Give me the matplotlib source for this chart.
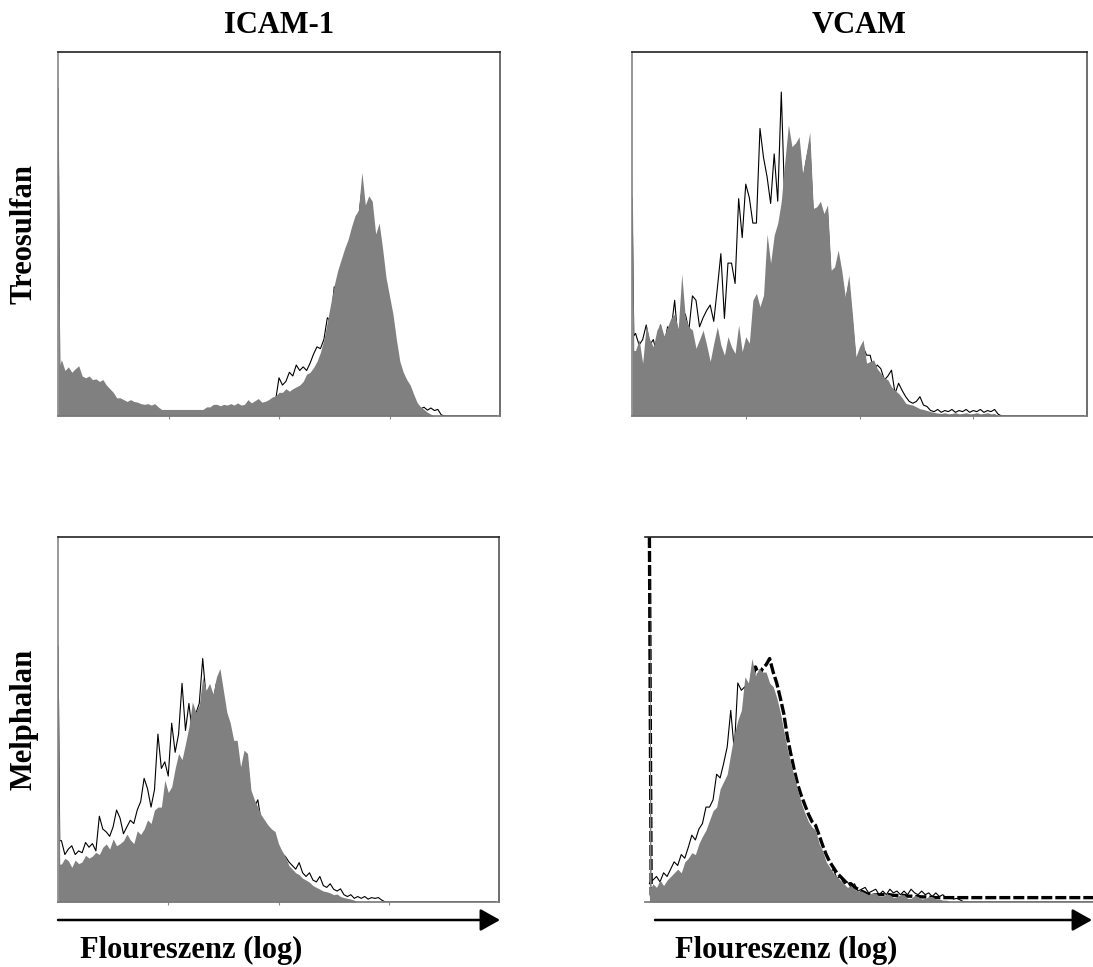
import matplotlib
matplotlib.use("Agg")
import matplotlib.pyplot as plt

# ---------------------------------------------------------------------------
# Data: flow cytometry histograms, counts in % of panel height per channel
# ---------------------------------------------------------------------------

CHANNELS = [0, 1] + list(range(2, 256, 2))

COL_TITLES = ["ICAM-1", "VCAM"]
ROW_LABELS = ["Treosulfan", "Melphalan"]
X_LABEL = "Floureszenz (log)"

treo_icam_gray = [100, 14,
                  15.5, 12.5, 13.5, 12, 13, 13.8, 11, 10.5, 11, 10, 10.2, 9.5, 10, 8.5, 7.5, 6.5,
                  5, 5, 4.5, 4, 4.5, 4, 3.8, 3.4, 3.2, 3.4, 3, 3.4, 2.5, 1.8, 1.8, 1.8,
                  1.8, 1.8, 1.8, 1.8, 1.8, 1.8, 1.8, 1.8, 1.8, 1.8, 2.5, 2.5, 3.2, 3.2, 2.8, 3.2,
                  3, 3.4, 3, 3.6, 3, 3.2, 4.5, 3.6, 4.2, 4.8, 3.8, 4, 4.5, 5.2, 5.5, 6.5,
                  6.5, 7.5, 6.8, 7.5, 8, 8.5, 9.5, 11.5, 12, 13.3, 15, 17.5, 21, 26, 31, 36,
                  40, 43, 46, 48.5, 52, 55, 56.5, 67, 58, 60.5, 59, 50, 53, 46, 38, 33,
                  28, 21, 15, 12, 10, 8.5, 6, 3.7, 2.5, 1.8, 1, 0.5, 0, 0, 0, 0,
                  0, 0, 0, 0, 0, 0, 0, 0, 0, 0, 0, 0, 0, 0, 0]
treo_icam_line = [90, 12,
                  13, 10, 11, 9.5, 10.5, 11, 8.5, 8, 8.5, 7.5, 8, 7, 7.5, 6.5, 5.5, 5,
                  3.8, 3.5, 3.2, 3, 3.2, 3, 2.8, 2.5, 2.4, 2.5, 2.2, 2.5, 1.8, 1.2, 1.2, 1.2,
                  1.2, 1.2, 1.2, 1.2, 1.2, 1.2, 1.2, 1.2, 1.2, 1.2, 1.8, 1.8, 2.4, 2.4, 2, 2.4,
                  2.2, 2.5, 2.2, 2.7, 2.2, 2.4, 3.4, 2.7, 3.2, 3.6, 2.8, 3, 3.4, 4, 4.2, 10.5,
                  8.5, 9.5, 12, 11, 14, 12.5, 13.5, 12.5, 14.5, 17, 19, 18.5, 21, 27, 26, 35.5,
                  34, 41, 44, 46, 49, 52, 54, 62, 55, 57, 56, 47, 50, 43, 36, 30,
                  25, 19, 13, 10, 8.5, 7, 5, 3, 2, 2.4, 1.6, 2.2, 1.5, 1.8, 0.3, 0,
                  0, 0, 0, 0, 0, 0, 0, 0, 0, 0, 0, 0, 0, 0, 0]

treo_vcam_gray = [73, 18,
                  18, 21, 14.5, 25, 21, 19, 23.6, 25.4, 22, 24.5, 27, 28, 24, 39, 27, 24.5,
                  23.6, 18.6, 21, 23.6, 19.5, 15, 20, 24.5, 19.5, 16.7, 21.8, 19, 17.2, 25, 17.7, 21.8,
                  20, 31.8, 33.7, 30, 33.2, 50, 42, 49.7, 53, 59, 70, 80, 74, 75, 76.7, 66.6,
                  72, 78, 57, 57.5, 59, 55.6, 58, 40, 41, 45.6, 40, 32.8, 38.7, 28, 16.3, 19,
                  20.9, 14.5, 15, 15.4, 13, 11.7, 10.5, 9.9, 8, 7, 6.2, 5, 3.5, 3.2, 3, 2.5,
                  2, 1.8, 1.5, 1.2, 1, 0.8, 0.7, 0.9, 0.6, 0.7, 0.9, 0.6, 0.7, 0.9, 0.6, 0.7,
                  0.9, 0.6, 0.7, 0.9, 0.6, 0.7, 0, 0, 0, 0, 0, 0, 0, 0, 0, 0,
                  0, 0, 0, 0, 0, 0, 0, 0, 0, 0, 0, 0, 0, 0, 0]
treo_vcam_line = [60, 22,
                  22.7, 19.5, 21, 25, 19.5, 21, 17, 25, 18.7, 24.5, 23.6, 31.8, 20, 27, 28, 23.6,
                  33, 31.8, 24.5, 27, 29, 30.5, 26, 35, 44.6, 26.8, 42, 42, 36.4, 59.7, 49, 63.7,
                  60, 53, 53, 79, 71, 65.7, 58.4, 72, 59, 89, 57.5, 75, 72, 73, 74, 64,
                  70, 75, 55, 55, 57, 53, 56, 38, 39, 43, 38, 31, 36, 26, 15, 17,
                  19, 16.7, 16.7, 12.6, 14, 13, 9.9, 11, 12.6, 6.2, 9, 7, 5.3, 4, 3.5, 4,
                  5.3, 3, 2.6, 1.5, 1.2, 1.8, 1, 1.5, 1.2, 1.8, 1, 1.5, 1.2, 1.8, 1, 1.5,
                  1.2, 1.8, 1, 1.5, 1.2, 1.8, 0.5, 0, 0, 0, 0, 0, 0, 0, 0, 0,
                  0, 0, 0, 0, 0, 0, 0, 0, 0, 0, 0, 0, 0, 0, 0]

mel_icam_gray = [75, 10.4,
                 10.4, 12, 11.3, 9.5, 11.5, 10.5, 11, 12.8, 12, 12.6, 13.6, 13, 15, 15.9, 14.5, 17.3,
                 15.4, 16, 16.8, 18.6, 17, 16, 19.5, 18.5, 20, 22.5, 21.5, 25.2, 26, 26, 33.4, 30,
                 31.6, 36.6, 40.7, 39, 43.4, 48, 54.8, 52, 54, 61.7, 58, 59.9, 57, 61.7, 64, 58,
                 52, 49, 44.3, 44.3, 37, 41.6, 40.7, 30.7, 28, 26, 23.8, 22.4, 21, 20, 19.3, 16,
                 14, 12.5, 10, 9, 8, 7.5, 6.5, 6, 5.4, 4.5, 4, 3.5, 3, 2.8, 2.5, 2,
                 2.2, 1.5, 1.2, 1, 0.8, 0.5, 0, 0, 0, 0, 0, 0, 0, 0, 0, 0,
                 0, 0, 0, 0, 0, 0, 0, 0, 0, 0, 0, 0, 0, 0, 0, 0,
                 0, 0, 0, 0, 0, 0, 0, 0, 0, 0, 0, 0, 0, 0, 0]
mel_icam_line = [70, 16.8,
                 16.8, 13, 14.5, 15.4, 13, 14, 13.5, 16.3, 15, 16, 14, 23.5, 20, 19.2, 18, 20.6,
                 25.2, 23, 18.7, 20.6, 22.4, 21.5, 25.2, 27.5, 33.9, 31, 26, 30.7, 46, 36.6, 38.4, 34.5,
                 49, 41, 46, 59.9, 47, 54.4, 46, 51.6, 54.4, 66.7, 56, 58, 55, 60, 62, 56,
                 50, 47, 42, 42, 35, 39, 38.5, 28.5, 26, 28, 22, 21, 18.8, 19, 17.5, 14,
                 13, 12.5, 11, 10, 9, 10.8, 8, 7, 8, 6, 5.5, 7, 4.5, 4, 5, 3.5,
                 3, 3.6, 2, 1.5, 2, 1, 1.5, 1, 1.5, 0.8, 1.2, 1, 1.2, 0.5, 0, 0,
                 0, 0, 0, 0, 0, 0, 0, 0, 0, 0, 0, 0, 0, 0, 0, 0,
                 0, 0, 0, 0, 0, 0, 0, 0, 0, 0, 0, 0, 0, 0, 0]

mel_vcam_gray = [96.7, 4,
                 5, 4, 6, 4.5, 6, 7, 8, 9, 8, 11, 12, 13.5, 13, 16, 18, 19.7,
                 22.4, 25, 26, 31, 33, 35, 40.7, 46, 49.8, 52.5, 61.7, 60, 66.7, 62, 64, 63,
                 63, 60, 59, 56, 52, 47, 42, 38, 34.3, 30.5, 27, 24.3, 22, 20.5, 19.7, 16,
                 14, 11, 9.5, 8, 7, 6, 5, 4, 4.5, 3.5, 3, 3, 2.5, 2, 2.5, 2.5,
                 1.5, 1.5, 2.2, 2, 1.2, 1.5, 2, 2, 1, 1, 1.8, 1.5, 0.8, 1, 1.5, 1.5,
                 0.8, 0.8, 0.5, 0.5, 0, 0, 0, 0, 0, 0, 0, 0, 0, 0, 0, 0,
                 0, 0, 0, 0, 0, 0, 0, 0, 0, 0, 0, 0, 0, 0, 0, 0,
                 0, 0, 0, 0, 0, 0, 0, 0, 0, 0, 0, 0, 0, 0, 0]
mel_vcam_line = [5, 6,
                 6, 7, 5.5, 8, 7, 9, 11, 10, 13, 12, 15, 18.3, 17, 20, 21.5, 26,
                 26, 28, 35, 34, 38, 42.5, 52.5, 41.6, 60, 58, 59, 54, 64, 60, 62, 61,
                 61, 58, 57, 54, 50, 45, 40, 36, 32, 29, 25, 23, 20, 19, 18, 14,
                 12, 10, 8, 9, 6.5, 7, 5, 5.5, 4, 5, 3, 3.5, 4, 2.5, 3, 3.5,
                 2, 3, 2, 3.5, 2.5, 3, 2, 3, 2, 3.5, 2.5, 2, 3, 2, 2.5, 1.5,
                 2.5, 1.5, 2, 1, 1.5, 0.8, 1, 0.5, 0, 0, 0, 0, 0, 0, 0, 0,
                 0, 0, 0, 0, 0, 0, 0, 0, 0, 0, 0, 0, 0, 0, 0, 0,
                 0, 0, 0, 0, 0, 0, 0, 0, 0, 0, 0, 0, 0, 0, 0]
mel_vcam_ctrl = [100, 2,
                 1.5, 2, 2.5, 3, 3.5, 4, 5, 6, 6, 7, 8, 9, 10, 11, 13, 15,
                 17, 19, 21, 24, 27, 30, 33, 38, 42, 46, 52, 56, 61, 64.4, 62, 64,
                 65, 66.7, 63, 60, 56, 51.6, 45.3, 40.5, 36, 32, 29, 26.5, 24, 22, 21, 18.3,
                 15.5, 13, 11, 9.5, 8, 7, 6, 5, 5, 4, 3.5, 3, 2.5, 2, 2, 2,
                 2, 2, 2, 2, 1.8, 1.8, 1.8, 1.8, 1.6, 1.6, 1.5, 1.5, 1.4, 1.4, 1.3, 1.3,
                 1.2, 1.2, 1.2, 1.2, 1.2, 1.2, 1.2, 1.2, 1.2, 1.2, 1.2, 1.2, 1.2, 1.2, 1.2, 1.2,
                 1.2, 1.2, 1.2, 1.2, 1.2, 1.2, 1.2, 1.2, 1.2, 1.2, 1.2, 1.2, 1.2, 1.2, 1.2, 1.2,
                 1.2, 1.2, 1.2, 1.2, 1.2, 1.2, 1.2, 1.2, 1.2, 1.2, 1.2, 1.2, 1.2, 1.2, 1.2]

GRAY = "#808080"
W, H = 1093, 967

# panel boxes in pixels: left, top, right, bottom
PANELS = {
    (0, 0): (58, 52, 500, 416),
    (0, 1): (632, 52, 1087, 416),
    (1, 0): (58, 537, 499, 902),
    (1, 1): (645, 537, 1102, 902),
}

plt.rcParams["font.family"] = ["Liberation Serif", "DejaVu Serif"]

fig = plt.figure(figsize=(W / 100, H / 100), dpi=100)


def panel_axes(box):
    l, t, r, b = box
    return fig.add_axes([l / W, 1 - b / H, (r - l) / W, (b - t) / H])


def histo(ax, gray, line, ctrl=None, frame=True):
    ax.plot(CHANNELS, line, color="black", lw=0.8, zorder=1)
    if ctrl is not None:
        ax.plot(CHANNELS, ctrl, color="black", lw=2.4, ls=(0, (3.3, 0.9)), zorder=1.5)
    ax.fill_between(CHANNELS, 0, gray, color=GRAY, lw=0, zorder=2)
    ax.set_ylim(0, 100)
    ax.set_yticks([])
    if frame:
        ax.set_xlim(0, 256)
        ax.set_xticks([64, 128, 192])
        ax.tick_params(axis="x", direction="out", length=2, color="#888888",
                       labelbottom=False)
        ax.spines["top"].set_color("#222222")
        ax.spines["right"].set_color("#555555")
        ax.spines["left"].set_color("#888888")
        ax.spines["bottom"].set_color("#777777")
        for s in ax.spines.values():
            s.set_linewidth(1.2)
    else:
        ax.set_xlim(-2.5, 256)
        ax.set_xticks([])
        ax.spines["left"].set_visible(False)
        ax.spines["right"].set_visible(False)
        ax.spines["top"].set_color("#222222")
        ax.spines["bottom"].set_color("#777777")
        ax.spines["top"].set_linewidth(1.2)
        ax.spines["bottom"].set_linewidth(1.2)


histo(panel_axes(PANELS[(0, 0)]), treo_icam_gray, treo_icam_line)
histo(panel_axes(PANELS[(0, 1)]), treo_vcam_gray, treo_vcam_line)
histo(panel_axes(PANELS[(1, 0)]), mel_icam_gray, mel_icam_line)
histo(panel_axes(PANELS[(1, 1)]), mel_vcam_gray, mel_vcam_line, ctrl=mel_vcam_ctrl, frame=False)

# overlay in pixel coordinates for labels and arrows
ov = fig.add_axes([0, 0, 1, 1], facecolor="none")
ov.set_xlim(0, W)
ov.set_ylim(H, 0)
ov.axis("off")

txt = dict(fontsize=22, fontweight="bold", color="black")
for j, title in enumerate(COL_TITLES):
    l, t, r, b = PANELS[(0, j)]
    ov.text((l + r) / 2, 33, title, ha="center", va="baseline", **txt)

for i, lab in enumerate(ROW_LABELS):
    l, t, r, b = PANELS[(i, 0)]
    ov.text(24, (t + b) / 2, lab, rotation=90, ha="center", va="center", **txt)

for x0, x1, xt in [(58, 500, 80), (655, 1092, 675)]:
    ov.annotate("", xy=(x1, 920), xytext=(x0, 920),
                arrowprops=dict(arrowstyle="-|>,head_length=0.8,head_width=0.45",
                                color="black", lw=1.8, mutation_scale=15,
                                shrinkA=0, shrinkB=0))
    ov.text(xt, 958, X_LABEL, ha="left", va="baseline", **txt)

fig.savefig("out.png", dpi=100)
